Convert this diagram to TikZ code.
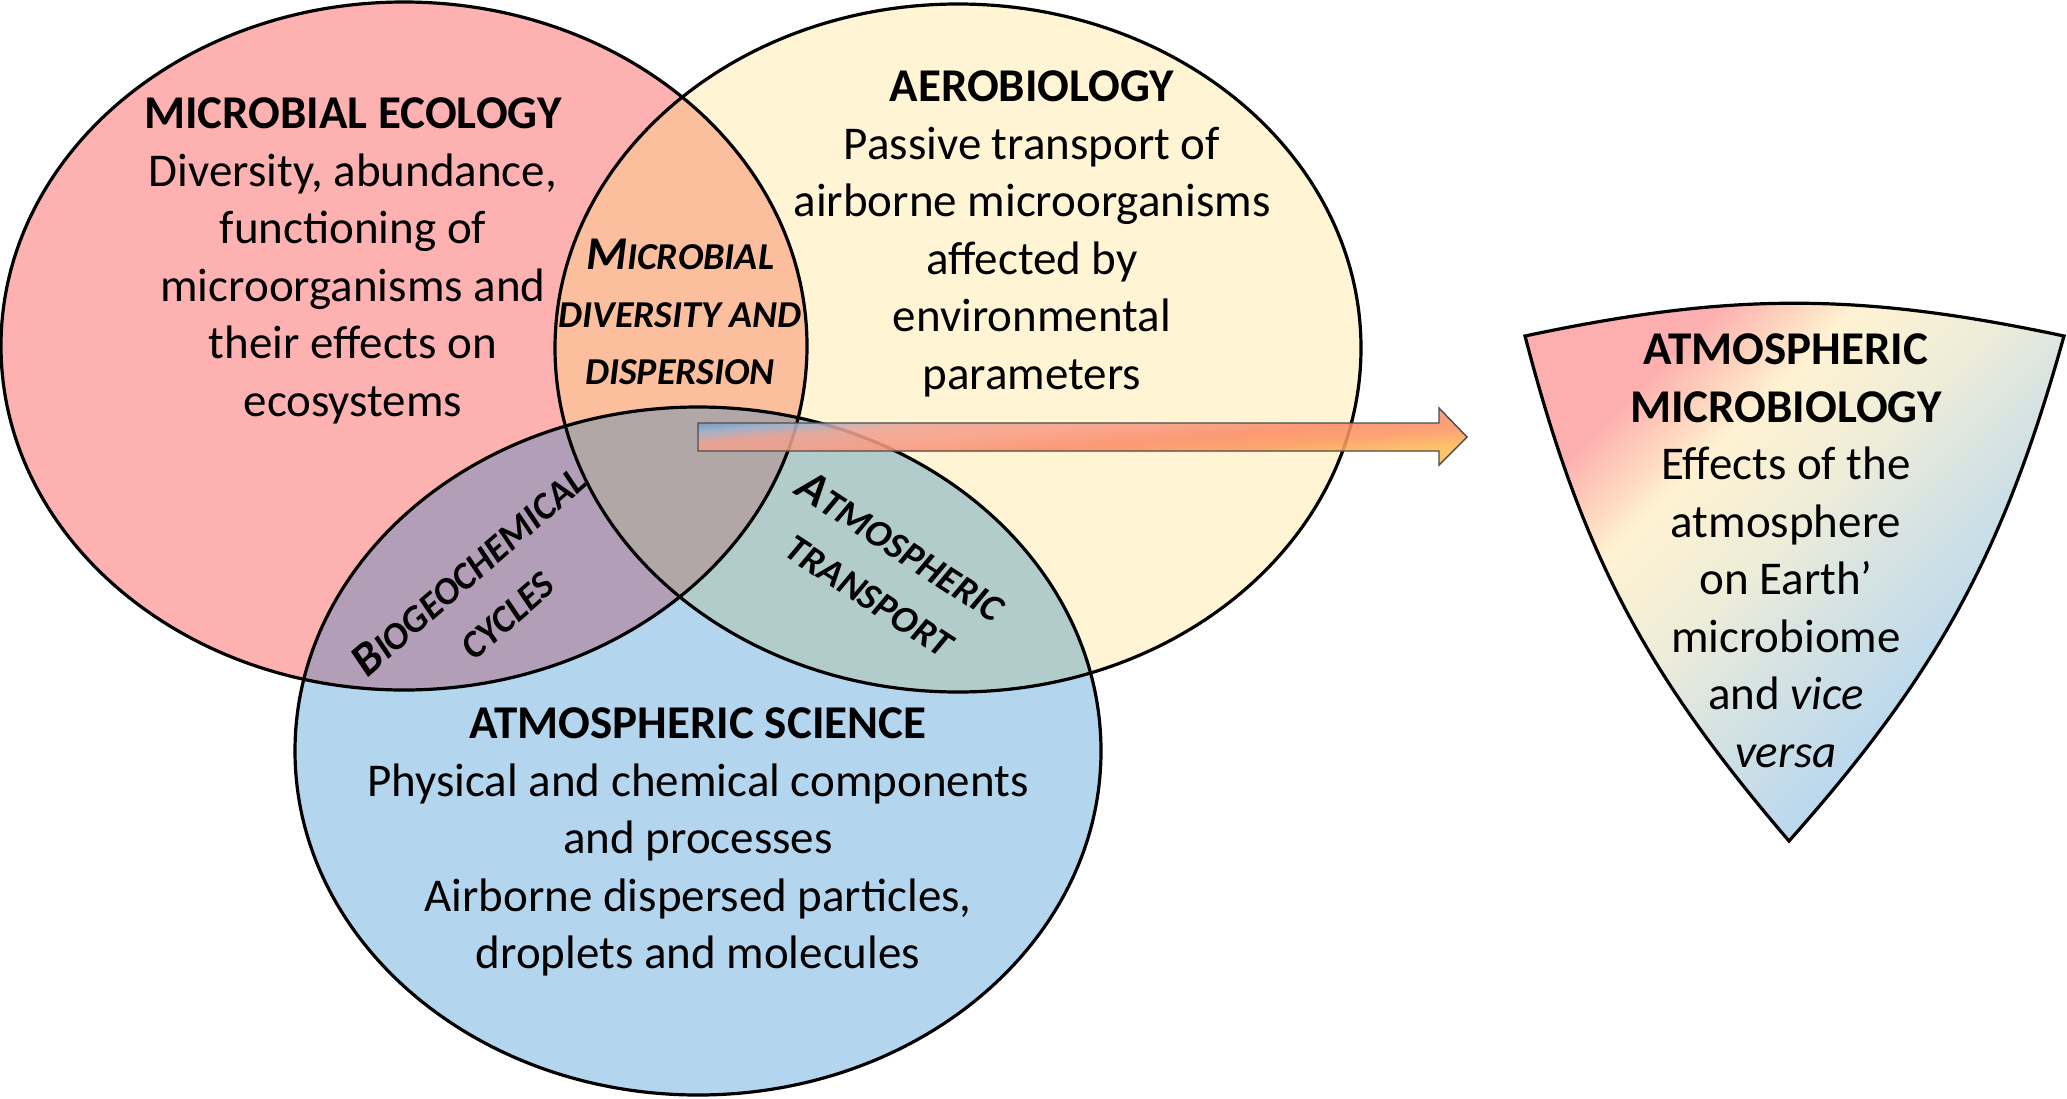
\documentclass[tikz,border=0pt]{standalone}
\usepackage{fontspec}
\setmainfont{Carlito}
\definecolor{cRed}{RGB}{253,177,177}
\definecolor{cYel}{RGB}{255,244,212}
\definecolor{cBlu}{RGB}{179,213,237}
\definecolor{cRY}{RGB}{252,191,158}
\definecolor{cRB}{RGB}{179,158,183}
\definecolor{cYB}{RGB}{178,203,203}
\definecolor{cAll}{RGB}{178,167,167}
\definecolor{aA}{RGB}{95,150,200}
\definecolor{aB}{RGB}{160,180,206}
\definecolor{aC}{RGB}{236,164,150}
\definecolor{aD}{RGB}{250,156,132}
\definecolor{aE}{RGB}{252,140,104}
\definecolor{aF}{RGB}{252,152,96}
\definecolor{aG}{RGB}{253,188,82}
\definecolor{tA}{RGB}{253,175,175}
\definecolor{tB}{RGB}{254,212,190}
\definecolor{tC}{RGB}{255,242,210}
\definecolor{tD}{RGB}{238,237,216}
\definecolor{tE}{RGB}{214,227,226}
\definecolor{tF}{RGB}{184,215,238}
\pgfdeclarehorizontalshading{trishade}{100bp}{color(0bp)=(tA); color(28bp)=(tA); color(33bp)=(tB); color(37bp)=(tC); color(47bp)=(tD); color(55bp)=(tE); color(68bp)=(tF); color(100bp)=(tF)}
\newcommand\capBig[1]{{\fontsize{23.5}{28.75}\selectfont #1}}
\newcommand\capSmall[1]{{\fontsize{19}{28.75}\selectfont #1}}
% gradient bands for the block arrow (nearly horizontal iso-lines)
\newcommand\arrowband[4]{%
  \foreach \k in {0,...,9}{%
    \pgfmathsetmacro\pa{(#1+(#2-#1)*\k/10)*118.6}%
    \pgfmathsetmacro\pb{\pa+(#2-#1)*11.86+0.8}%
    \pgfmathsetmacro\mx{10*\k+5}%
    \fill[#4!\mx!#3] ({698+0.080*\pa-897.3},{408+0.997*\pa+72})
      -- ({698+0.080*\pa+897.3},{408+0.997*\pa-72})
      -- ({698+0.080*\pb+897.3},{408+0.997*\pb-72})
      -- ({698+0.080*\pb-897.3},{408+0.997*\pb+72}) -- cycle;
  }}
\tikzset{
  ell/.style={x radius=403, y radius=344},
  outline/.style={draw=black, line width=1.6pt},
  txt/.style={align=center, inner sep=0pt, font=\fontsize{23.5}{28.75}\selectfont},
  lens/.style={align=center, inner sep=0pt, font=\fontsize{23.5}{28.75}\selectfont\bfseries\itshape},
}
\begin{document}
\begin{tikzpicture}[x=0.5pt,y=-0.5pt]
\useasboundingbox (0,0) rectangle (2067,1098);
\fill[white] (0,0) rectangle (2067,1098);
% base fills
\fill[cRed] (404,346) ellipse [ell];
\fill[cYel] (958,348) ellipse [ell];
\fill[cBlu] (698,751) ellipse [ell];
\begin{scope}
  \clip (404,346) ellipse [ell];
  \fill[cRY] (958,348) ellipse [ell];
  \fill[cRB] (698,751) ellipse [ell];
\end{scope}
\begin{scope}
  \clip (958,348) ellipse [ell];
  \fill[cYB] (698,751) ellipse [ell];
\end{scope}
\begin{scope}
  \clip (404,346) ellipse [ell];
  \clip (958,348) ellipse [ell];
  \fill[cAll] (698,751) ellipse [ell];
\end{scope}
% outlines
\draw[outline] (404,346) ellipse [ell];
\draw[outline] (958,348) ellipse [ell];
\draw[outline] (698,751) ellipse [ell];
% triangle
\coordinate (TL) at (1525,336);
\coordinate (TR) at (2064,336);
\coordinate (TB) at (1789,841);
\path[shade, shading=trishade, shading angle=-45, outline, line join=miter]
  (TL) to[bend left=12] (TR) to[bend left=13] (TB) to[bend left=13] (TL) -- cycle;
% block arrow
\begin{scope}[transparency group, opacity=0.87]
  \clip (698,423) -- (1439,423) -- (1439,408) -- (1467,437) -- (1439,465) -- (1439,451) -- (698,451) -- cycle;
  \arrowband{0}{0.11}{aA}{aA}
  \arrowband{0.11}{0.20}{aA}{aB}
  \arrowband{0.20}{0.29}{aB}{aC}
  \arrowband{0.29}{0.44}{aC}{aD}
  \arrowband{0.44}{0.58}{aD}{aE}
  \arrowband{0.58}{0.70}{aE}{aF}
  \arrowband{0.70}{0.84}{aF}{aG}
  \arrowband{0.84}{1.0}{aG}{aG}
\end{scope}
\draw[draw=black!70, line width=0.7pt]
  (698,423) -- (1439,423) -- (1439,408) -- (1467,437) -- (1439,465) -- (1439,451) -- (698,451) -- cycle;
% texts
\node[txt] (me) at (353,261) {\textbf{MICROBIAL ECOLOGY}\\Diversity, abundance,\\functioning of\\microorganisms and\\their effects on\\ecosystems};
\node[txt] (ae) at (1032,234) {\textbf{AEROBIOLOGY}\\Passive transport of\\airborne microorganisms\\affected by\\environmental\\parameters};
\node[txt] (as) at (698,842) {\textbf{ATMOSPHERIC SCIENCE}\\Physical and chemical components\\and processes\\Airborne dispersed particles,\\droplets and molecules};
\node[txt] (am) at (1786,551) {\textbf{ATMOSPHERIC}\\\textbf{MICROBIOLOGY}\\Effects of the\\atmosphere\\on Earth’\\microbiome\\and \textit{vice}\\\textit{versa}};
\node[lens] (md) at (680,312) {\capBig{M}\capSmall{ICROBIAL}\\\capSmall{DIVERSITY AND}\\\capSmall{DISPERSION}};
\node[lens, rotate=41] (bc) at (487,592) {\capBig{B}\capSmall{IOGEOCHEMICAL}\\\capSmall{CYCLES}};
\node[lens, rotate=-33] (at) at (886,570) {\capBig{A}\capSmall{TMOSPHERIC}\\\capSmall{TRANSPORT}};
\end{tikzpicture}
\end{document}
